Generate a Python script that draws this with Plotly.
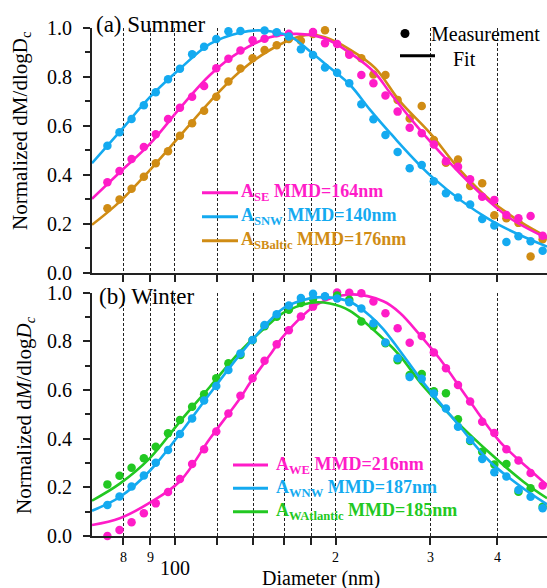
import math
import plotly.graph_objects as go

# ---------------- data ----------------
# particle diameter of each size bin (nm)
diam = [74.8, 78.8, 83.0, 87.5, 92.1, 97.1, 102.2, 107.7, 113.4, 119.5, 125.9, 132.6,
        139.7, 147.1, 155.0, 163.3, 172.0, 181.2, 190.8, 201.0, 211.8, 223.1, 235.0,
        247.5, 260.8, 274.7, 289.3, 304.8, 321.1, 338.2, 356.3, 375.3, 395.4, 416.5,
        438.7, 462.2, 486.8]

# (a) Summer - measured normalized mass distributions
sum_se = [0.369, 0.415, 0.464, 0.513, 0.565, 0.628, 0.674, 0.719, 0.763, 0.835, 0.874, 0.908,
          0.950, 0.956, 0.979, 0.976, 1.003, 0.984, 0.938, 0.935, 0.891, 0.808, 0.774, 0.724,
          0.658, 0.592, 0.570, 0.524, 0.455, 0.433, 0.381, 0.310, 0.297, 0.235, 0.222, 0.231,
          0.150]
sum_snw = [0.518, 0.574, 0.628, 0.684, 0.737, 0.790, 0.833, 0.893, 0.923, 0.955, 0.987, 0.988,
           1.003, 0.990, 0.983, 0.965, 0.913, 0.890, 0.838, 0.817, 0.774, 0.688, 0.627, 0.562,
           0.493, 0.426, 0.440, 0.373, 0.324, 0.307, 0.278, 0.219, 0.192, 0.125, 0.148, 0.128,
           0.089]
sum_sbaltic = [0.263, 0.299, 0.343, 0.392, 0.447, 0.496, 0.559, 0.610, 0.662, 0.719, 0.781, 0.834,
               0.876, 0.910, 0.929, 0.955, 0.948, 0.975, 0.991, 1.003, 0.897, 0.876, 0.810, 0.808,
               0.706, 0.630, 0.681, 0.542, 0.449, 0.462, 0.354, 0.365, 0.234, 0.222, 0.203, 0.065,
               0.136]

# (b) Winter - measured normalized mass distributions
win_we = [0.000, 0.025, 0.056, 0.093, 0.134, 0.181, 0.234, 0.296, 0.356, 0.429, 0.503, 0.576,
          0.648, 0.720, 0.787, 0.845, 0.901, 0.942, 0.983, 1.000, 0.999, 0.997, 0.963, 0.915,
          0.853, 0.794, 0.821, 0.754, 0.689, 0.620, 0.552, 0.469, 0.423, 0.356, 0.310, 0.259,
          0.207]
win_wnw = [0.127, 0.162, 0.203, 0.248, 0.301, 0.353, 0.419, 0.483, 0.556, 0.616, 0.682, 0.750,
           0.805, 0.867, 0.911, 0.947, 0.977, 0.995, 0.985, 0.975, 0.960, 0.934, 0.874, 0.795,
           0.730, 0.653, 0.646, 0.585, 0.524, 0.449, 0.394, 0.316, 0.262, 0.244, 0.189, 0.161,
           0.114]
win_watl = [0.212, 0.247, 0.280, 0.319, 0.367, 0.422, 0.476, 0.531, 0.582, 0.648, 0.709, 0.743,
            0.804, 0.861, 0.900, 0.929, 0.957, 0.973, 1.005, 0.988, 0.970, 0.881, 0.861, 0.792,
            0.722, 0.661, 0.665, 0.594, 0.586, 0.479, 0.390, 0.346, 0.294, 0.296, 0.182, 0.196,
            0.120]

# fitted log-normal curves: (diameter nm, value)
fit_se_d = [70, 78.9, 89.8, 102.2, 116.3, 132.3, 150.5, 169.1, 190.8, 212.4, 236.6, 252.4,
            287.2, 326.9, 371.8, 423.1, 496.1]
fit_se_v = [0.301, 0.410, 0.526, 0.672, 0.808, 0.903, 0.962, 0.976, 0.957, 0.898, 0.816, 0.735,
            0.583, 0.447, 0.324, 0.222, 0.140]
fit_snw_d = [70, 78.9, 89.8, 102.2, 116.3, 132.3, 145.4, 164.1, 178.8, 194.9, 212.4, 231.5,
             252.4, 304.2, 388.2, 496.1]
fit_snw_v = [0.447, 0.576, 0.717, 0.833, 0.935, 0.981, 0.990, 0.966, 0.905, 0.837, 0.768, 0.666,
             0.571, 0.386, 0.215, 0.106]
fit_sbal_d = [70, 78.9, 89.8, 102.2, 116.3, 132.3, 150.5, 171.3, 178.8, 190.8, 212.4, 236.6,
              263.5, 299.9, 341.2, 388.2, 441.7, 496.1]
fit_sbal_v = [0.195, 0.290, 0.419, 0.559, 0.699, 0.822, 0.910, 0.966, 0.973, 0.962, 0.912, 0.837,
              0.700, 0.570, 0.419, 0.297, 0.208, 0.145]

fit_we_d = [70, 78.9, 89.8, 102.2, 116.3, 132.3, 138.1, 150.5, 159.4, 184.1, 212.4, 245.2,
            263.5, 287.2, 313.1, 356.1, 405.2, 461.1, 496.1]
fit_we_v = [0.045, 0.073, 0.137, 0.225, 0.400, 0.565, 0.628, 0.743, 0.820, 0.950, 0.992, 0.964,
            0.916, 0.825, 0.726, 0.552, 0.387, 0.271, 0.209]
fit_wnw_d = [70, 78.9, 89.8, 102.2, 116.3, 132.3, 150.5, 159.4, 171.3, 184.1, 198.0, 212.4,
             231.5, 245.2, 263.5, 291.3, 336.4, 388.2, 448.1, 496.1]
fit_wnw_v = [0.104, 0.160, 0.268, 0.420, 0.585, 0.745, 0.885, 0.935, 0.965, 0.980, 0.978, 0.962,
             0.905, 0.850, 0.760, 0.630, 0.465, 0.305, 0.195, 0.130]
fit_watl_d = [70, 78.9, 89.8, 102.2, 116.3, 132.3, 150.5, 159.4, 178.8, 194.9, 212.4, 245.2,
              263.5, 291.3, 336.4, 388.2, 448.1, 496.1]
fit_watl_v = [0.145, 0.215, 0.320, 0.470, 0.613, 0.757, 0.873, 0.916, 0.957, 0.955, 0.925, 0.810,
              0.740, 0.615, 0.469, 0.340, 0.223, 0.155]

# reference diameters (dotted guide lines) and labelled ticks
grid_d = [80, 90, 100, 120, 140, 160, 180, 200, 300, 400]
tick_small = [(80, "8"), (90, "9"), (200, "2"), (300, "3"), (400, "4")]

PINK = "#FF1CC8"
BLUE = "#14AAF0"
GOLD = "#D08C14"
GREEN = "#22C822"
INK = "#222222"
FONT = "Liberation Serif, Times New Roman, serif"

# ---------------- figure ----------------
fig = go.Figure()


def add_series(xa, ya, d, vals, fd, fv, color):
    fig.add_trace(go.Scatter(x=fd, y=fv, mode="lines", xaxis=xa, yaxis=ya,
                             line=dict(color=color, width=2.6, shape="spline", smoothing=1.0),
                             showlegend=False, hoverinfo="skip"))
    fig.add_trace(go.Scatter(x=d, y=vals, mode="markers", xaxis=xa, yaxis=ya,
                             marker=dict(color=color, size=8.5, line=dict(width=0)),
                             cliponaxis=False, showlegend=False))


add_series("x", "y", diam, sum_sbaltic, fit_sbal_d, fit_sbal_v, GOLD)
add_series("x", "y", diam, sum_se, fit_se_d, fit_se_v, PINK)
add_series("x", "y", diam, sum_snw, fit_snw_d, fit_snw_v, BLUE)

add_series("x2", "y2", diam, win_we, fit_we_d, fit_we_v, PINK)
add_series("x2", "y2", diam, win_watl, fit_watl_d, fit_watl_v, GREEN)
add_series("x2", "y2", diam, win_wnw, fit_wnw_d, fit_wnw_v, BLUE)

xcommon = dict(type="log", range=[math.log10(70), math.log10(496)],
               tickvals=grid_d, showticklabels=False,
               ticks="outside", ticklen=7, tickwidth=1.5, tickcolor=INK,
               showgrid=True, gridcolor=INK, gridwidth=1, griddash="3px,2px",
               showline=True, linecolor=INK, linewidth=2, zeroline=False,
               domain=[0, 1])
ycommon = dict(range=[0, 1.0], tick0=0, dtick=0.2, tickformat=".1f",
               ticks="outside", ticklen=7, tickwidth=1.5, tickcolor=INK,
               minor=dict(dtick=0.1, ticks="outside", ticklen=5, tickwidth=1.5, tickcolor=INK),
               showgrid=False, showline=True, linecolor=INK, linewidth=2, zeroline=False,
               tickfont=dict(family=FONT, size=20, color="black"), ticklabelstandoff=7)

# pixel -> paper helpers for the fixed 547x588 canvas
ML, MT, MB, W, H = 92, 28, 52, 547, 588
PW, PH = W - ML, H - MT - MB


def px(x):
    return (x - ML) / PW


def py(y):
    return (H - MB - y) / PH


fig.update_layout(
    width=W, height=H,
    margin=dict(l=ML, r=0, t=MT, b=MB),
    paper_bgcolor="white", plot_bgcolor="white",
    font=dict(family=FONT, color="black"),
    showlegend=False,
    xaxis=dict(xcommon, anchor="y"),
    yaxis=dict(ycommon, domain=[py(272.5), 1.0], anchor="x"),
    xaxis2=dict(xcommon, anchor="y2"),
    yaxis2=dict(ycommon, domain=[0, py(292.5)], anchor="x2"),
)

shapes = []
annotations = []

# key boxes hide the dotted guides behind them
shapes.append(dict(type="rect", xref="paper", yref="paper", layer="between",
                   x0=px(198), x1=px(398), y0=py(258), y1=py(178),
                   fillcolor="white", line=dict(width=0)))
shapes.append(dict(type="rect", xref="paper", yref="paper", layer="between",
                   x0=px(226), x1=px(470), y0=0, y1=py(453),
                   fillcolor="white", line=dict(width=0)))


def key_rows(rows, x0, x1, xt, ys):
    for (label, color), yy in zip(rows, ys):
        shapes.append(dict(type="line", xref="paper", yref="paper",
                           x0=px(x0), x1=px(x1), y0=py(yy), y1=py(yy),
                           line=dict(color=color, width=3)))
        annotations.append(dict(xref="paper", yref="paper", x=px(xt), y=py(yy),
                                xanchor="left", yanchor="middle", showarrow=False,
                                text=label, font=dict(family=FONT, size=18, color=color)))


key_rows([("<b>A<sub>SE</sub> MMD=164nm</b>", PINK),
          ("<b>A<sub>SNW</sub> MMD=140nm</b>", BLUE),
          ("<b>A<sub>SBaltic</sub> MMD=176nm</b>", GOLD)],
         202, 238, 239, [192.7, 216.7, 240.7])
key_rows([("<b>A<sub>WE</sub> MMD=216nm</b>", PINK),
          ("<b>A<sub>WNW</sub> MMD=187nm</b>", BLUE),
          ("<b>A<sub>WAtlantic</sub> MMD=185nm</b>", GREEN)],
         233, 268, 274, [465, 488.3, 511.7])

# measurement / fit key
r = 4.5
shapes.append(dict(type="circle", xref="paper", yref="paper",
                   x0=px(405 - r), x1=px(405 + r), y0=py(33.5 + r), y1=py(33.5 - r),
                   fillcolor="black", line=dict(width=0)))
shapes.append(dict(type="line", xref="paper", yref="paper",
                   x0=px(400), x1=px(435), y0=py(55.7), y1=py(55.7),
                   line=dict(color="black", width=3)))
annotations.append(dict(xref="paper", yref="paper", x=px(429), y=py(34),
                        xanchor="left", yanchor="middle", showarrow=False,
                        text="Measurement", font=dict(family=FONT, size=20)))
annotations.append(dict(xref="paper", yref="paper", x=px(451), y=py(59),
                        xanchor="left", yanchor="middle", showarrow=False,
                        text="Fit", font=dict(family=FONT, size=20)))

# panel titles
annotations.append(dict(xref="paper", yref="paper", x=px(94), y=py(24),
                        xanchor="left", yanchor="middle", showarrow=False,
                        text="(a) Summer", font=dict(family=FONT, size=23)))
annotations.append(dict(xref="paper", yref="paper", x=px(97), y=py(296),
                        xanchor="left", yanchor="middle", showarrow=False,
                        text="(b) Winter", font=dict(family=FONT, size=23)))

# y-axis titles
annotations.append(dict(xref="paper", yref="paper", x=px(21), y=py(131),
                        xanchor="center", yanchor="middle", showarrow=False, textangle=-90,
                        text="Normalized dM/dlogD<sub>c</sub>",
                        font=dict(family=FONT, size=21)))
annotations.append(dict(xref="paper", yref="paper", x=px(25), y=py(415),
                        xanchor="center", yanchor="middle", showarrow=False, textangle=-90,
                        text="Normalized d<i>M</i>/dlog<i>D</i><sub><i>c</i></sub>",
                        font=dict(family=FONT, size=21)))

# x tick labels of the lower panel
for val, lab in tick_small:
    annotations.append(dict(xref="x2", yref="paper", x=math.log10(val), y=py(557.5),
                            xanchor="center", yanchor="middle", showarrow=False,
                            text=lab, font=dict(family=FONT, size=14)))
annotations.append(dict(xref="x2", yref="paper", x=math.log10(100), y=py(568),
                        xanchor="center", yanchor="middle", showarrow=False,
                        text="100", font=dict(family=FONT, size=20)))
annotations.append(dict(xref="paper", yref="paper", x=px(321), y=py(578),
                        xanchor="center", yanchor="middle", showarrow=False,
                        text="Diameter (nm)", font=dict(family=FONT, size=20)))

fig.update_layout(shapes=shapes, annotations=annotations)

fig.write_html("out.html")
